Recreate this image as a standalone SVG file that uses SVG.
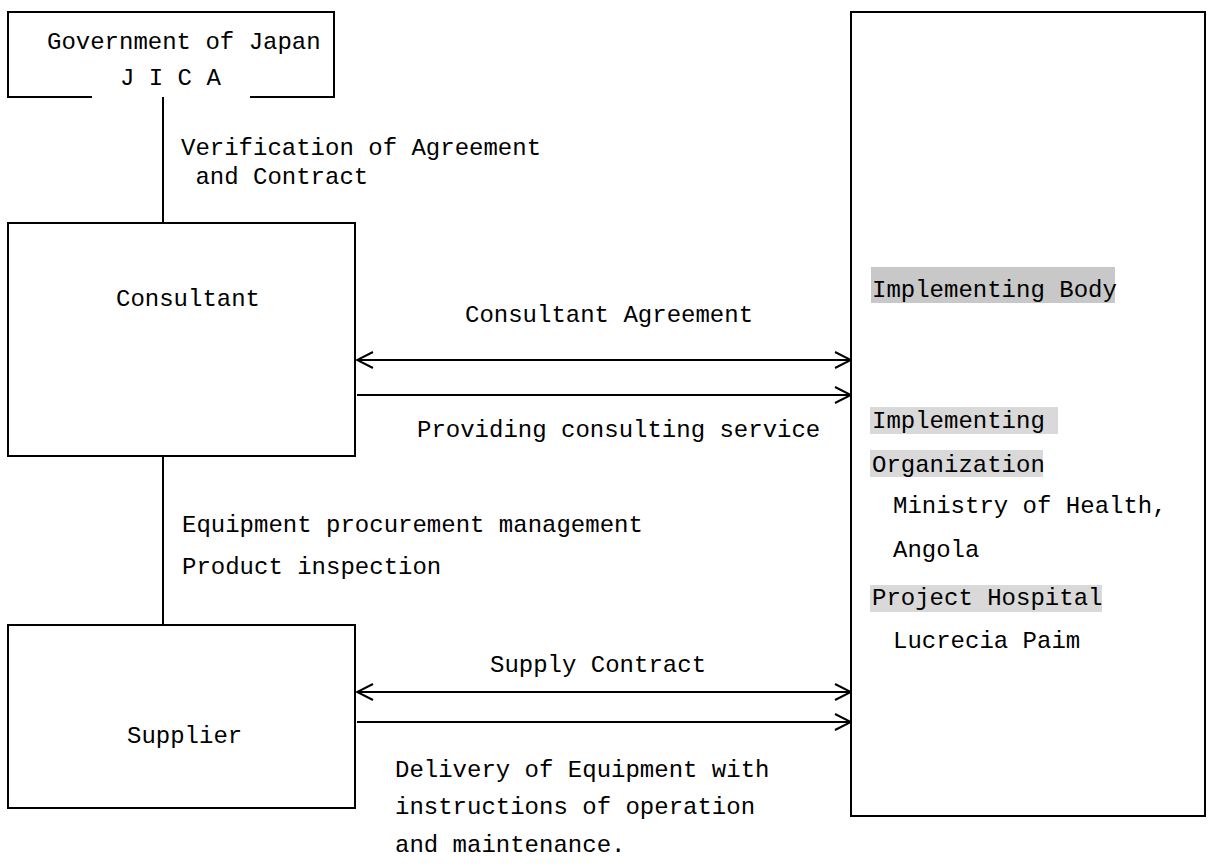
<svg xmlns="http://www.w3.org/2000/svg" width="1215" height="867" viewBox="0 0 1215 867">
<style>
.box{fill:none;stroke:#000;stroke-width:2}
.ln{fill:none;stroke:#000;stroke-width:2}
text{font-family:"Liberation Mono","DejaVu Sans Mono",monospace;font-size:24px;fill:#000}
.hl1{fill:#c8c8c8}
.hl2{fill:#d9d9d9}
</style>
<defs>
<marker id="ah" viewBox="-17 -9 18 18" refX="0" refY="0" markerWidth="18" markerHeight="18" markerUnits="userSpaceOnUse" orient="auto-start-reverse">
<path d="M-16,-8 L0,0 L-16,8" fill="none" stroke="#000" stroke-width="2"/>
</marker>
</defs>
<rect width="1215" height="867" fill="#fff"/>
<g id="government">
<path class="box" d="M92 97 H8 V12 H334 V97 H250"/>
<text x="47" y="49">Government of Japan</text>
<text x="120" y="85">J I C A</text>
</g>
<g id="consultant">
<rect class="box" x="8" y="223" width="347" height="233"/>
<text x="116" y="306">Consultant</text>
</g>
<g id="supplier">
<rect class="box" x="8" y="625" width="347" height="183"/>
<text x="127" y="743">Supplier</text>
</g>
<g id="recipient">
<rect class="box" x="851" y="12" width="354" height="804"/>
<rect class="hl1" x="871" y="267" width="244" height="36"/>
<text x="872" y="297">Implementing Body</text>
<rect class="hl2" x="870" y="407" width="188" height="27"/>
<text x="872" y="428">Implementing </text>
<rect class="hl2" x="870" y="450" width="173" height="27"/>
<text x="872" y="472">Organization</text>
<text x="893" y="513">Ministry of Health,</text>
<text x="893" y="557">Angola</text>
<rect class="hl2" x="870" y="585" width="232" height="27"/>
<text x="872" y="605">Project Hospital</text>
<text x="893" y="648">Lucrecia Paim</text>
</g>
<g id="connectors">
<line class="ln" x1="163" y1="97" x2="163" y2="223"/>
<line class="ln" x1="163" y1="456" x2="163" y2="625"/>
<line class="ln" x1="357" y1="360" x2="851" y2="360" marker-start="url(#ah)" marker-end="url(#ah)"/>
<line class="ln" x1="357" y1="395" x2="851" y2="395" marker-end="url(#ah)"/>
<line class="ln" x1="357" y1="692" x2="851" y2="692" marker-start="url(#ah)" marker-end="url(#ah)"/>
<line class="ln" x1="357" y1="722" x2="851" y2="722" marker-end="url(#ah)"/>
<text x="181" y="155">Verification of Agreement</text>
<text x="181" y="184" xml:space="preserve"> and Contract</text>
<text x="465" y="322">Consultant Agreement</text>
<text x="417" y="437">Providing consulting service</text>
<text x="182" y="532">Equipment procurement management</text>
<text x="182" y="574">Product inspection</text>
<text x="490" y="672">Supply Contract</text>
<text x="395" y="777">Delivery of Equipment with</text>
<text x="395" y="814">instructions of operation</text>
<text x="395" y="852">and maintenance.</text>
</g>
</svg>
